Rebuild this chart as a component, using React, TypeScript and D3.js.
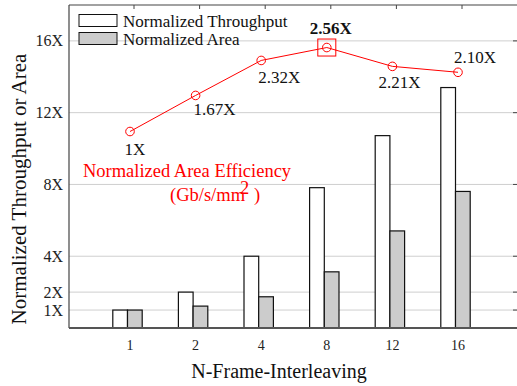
import React from 'react';
import * as d3 from 'd3';

const categories = ['1', '2', '4', '8', '12', '16'];
const throughput = [1, 2, 4, 7.82, 10.72, 13.4];
const area = [1, 1.22, 1.74, 3.13, 5.41, 7.61];
const efficiency = [1, 1.67, 2.32, 2.56, 2.21, 2.1];
const effLabels = ['1X', '1.67X', '2.32X', '2.56X', '2.21X', '2.10X'];
const yTicks = [1, 2, 4, 8, 12, 16];
const yTickLabels = ['1X', '2X', '4X', '8X', '12X', '16X'];

// manual label placement, relative to each marker
const labelOffsets: [number, number][] = [
  [5, 23], [19, 20], [18, 23], [4, -14], [7, 22], [17, -9],
];

const W = 517;
const H = 386;
const left = 69;
const right = 518;
const top = 5;
const bottom = 328;
const font = "'Liberation Serif', 'Times New Roman', Times, serif";

const App = () => {
  const x = d3.scalePoint<string>().domain(categories).range([left + 61, left + 389]);
  const y = d3.scaleLinear().domain([0, 18]).range([bottom, top]);
  const yEff = d3.scaleLinear().domain([1, 2.56]).range([y(10.95), y(15.63)]);
  const barW = 14.7;
  const shift = -2.5;

  const line = d3.line<number>()
    .x((_, i) => x(categories[i])!)
    .y(d => yEff(d));

  const peak = efficiency.indexOf(d3.max(efficiency)!);

  return (
    <svg width={W} height={H} style={{ position: 'absolute', left: 0, top: 0, background: '#fff', fontFamily: font }}>
      <rect width={W} height={H} fill="#fff" />
      {/* grid */}
      {yTicks.map(t => (
        <line key={'g' + t} x1={left} x2={right} y1={y(t)} y2={y(t)} stroke="#cfcfcf" strokeWidth={1} />
      ))}
      {/* bars */}
      {categories.map((c, i) => (
        <g key={'b' + c}>
          <rect x={x(c)! + shift - barW} y={y(throughput[i])} width={barW}
            height={bottom - y(throughput[i])} fill="#fff" stroke="#111" strokeWidth={1.2} />
          <rect x={x(c)! + shift} y={y(area[i])} width={barW}
            height={bottom - y(area[i])} fill="#cccccc" stroke="#111" strokeWidth={1.2} />
        </g>
      ))}
      {/* frame */}
      <line x1={left} x2={right} y1={top} y2={top} stroke="#444" strokeWidth={1.2} />
      <line x1={left} x2={left} y1={top} y2={bottom} stroke="#444" strokeWidth={1.2} />
      <line x1={left} x2={right} y1={bottom} y2={bottom} stroke="#555" strokeWidth={2} />
      {categories.map(c => (
        <line key={'tt' + c} x1={x(c)! + 4} x2={x(c)! + 4} y1={top} y2={top + 4} stroke="#444" strokeWidth={1} />
      ))}
      {yTicks.map(t => (
        <line key={'rt' + t} x1={W - 4} x2={W} y1={y(t)} y2={y(t)} stroke="#444" strokeWidth={1} />
      ))}
      {/* y tick labels */}
      {yTicks.map((t, i) => (
        <text key={'yl' + t} x={63} y={y(t)} dy="0.35em" textAnchor="end" fontSize={16} fill="#222" style={{ fontFamily: font }}>
          {yTickLabels[i]}
        </text>
      ))}
      {/* x tick labels */}
      {categories.map(c => (
        <text key={'xl' + c} x={x(c)!} y={350} textAnchor="middle" fontSize={14} fill="#222" style={{ fontFamily: font }}>{c}</text>
      ))}
      {/* axis titles */}
      <text x={279} y={378} textAnchor="middle" fontSize={20} fill="#111" style={{ fontFamily: font }}>N-Frame-Interleaving</text>
      <text transform="translate(26,189) rotate(-90)" textAnchor="middle" fontSize={21} fill="#111" style={{ fontFamily: font }}>
        Normalized Throughput or Area
      </text>
      {/* efficiency line */}
      <path d={line(efficiency)!} fill="none" stroke="#ff0000" strokeWidth={1} />
      {efficiency.map((e, i) => (
        <circle key={'m' + i} cx={x(categories[i])!} cy={yEff(e)} r={4.3} fill="none" stroke="#ff0000" strokeWidth={1} />
      ))}
      <rect x={x(categories[peak])! - 9} y={yEff(efficiency[peak]) - 8.5} width={18} height={17}
        fill="none" stroke="#ff0000" strokeWidth={1} />
      {efficiency.map((e, i) => (
        <text key={'el' + i} x={x(categories[i])! + labelOffsets[i][0]} y={yEff(e) + labelOffsets[i][1]}
          textAnchor="middle" fontSize={17} fontWeight={i === peak ? 'bold' : 'normal'} fill="#111" style={{ fontFamily: font }}>
          {effLabels[i]}
        </text>
      ))}
      {/* annotation */}
      <text x={187} y={177} textAnchor="middle" fontSize={18.5} fill="#ff0000" style={{ fontFamily: font }}>Normalized Area Efficiency</text>
      <text x={170} y={201} fontSize={18.5} fill="#ff0000" style={{ fontFamily: font }}>
        <tspan>(Gb/s/mm</tspan>
        <tspan dx={-5} dy={-7}>2</tspan>
        <tspan dy={7}>{' )'}</tspan>
      </text>
      {/* legend */}
      <rect x={79} y={14.5} width={38} height={12} fill="#fff" stroke="#111" strokeWidth={1} />
      <text x={123} y={27} fontSize={17} fill="#111" style={{ fontFamily: font }}>Normalized Throughput</text>
      <rect x={79} y={32.5} width={38} height={12} fill="#cccccc" stroke="#111" strokeWidth={1} />
      <text x={123} y={45} fontSize={17} fill="#111" style={{ fontFamily: font }}>Normalized Area</text>
    </svg>
  );
};

export default App;
